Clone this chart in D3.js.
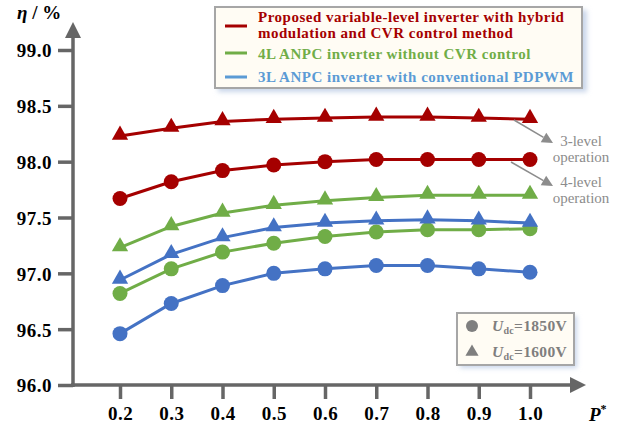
<!DOCTYPE html>
<html>
<head>
<meta charset="utf-8">
<script src="https://cdn.jsdelivr.net/npm/d3@7/dist/d3.min.js"></script>
<style>
  html, body { margin: 0; padding: 0; background: #fff; }
  svg { display: block; font-family: "Liberation Serif", "Times New Roman", serif; }
</style>
</head>
<body>
<svg id="chart" width="631" height="432"></svg>
<script>
// Per-unit output power
const powerLevels = [0.2, 0.3, 0.4, 0.5, 0.6, 0.7, 0.8, 0.9, 1.0];
const xTickLabels = ["0.2", "0.3", "0.4", "0.5", "0.6", "0.7", "0.8", "0.9", "1.0"];
const yTicks = [96.0, 96.5, 97.0, 97.5, 98.0, 98.5, 99.0];

// Efficiency (%) — Udc = 1600 V (triangles) and Udc = 1850 V (circles)
const proposed1600 = [98.23, 98.30, 98.36, 98.38, 98.39, 98.40, 98.40, 98.39, 98.38];
const proposed1850 = [97.67, 97.82, 97.92, 97.97, 98.00, 98.02, 98.02, 98.02, 98.02];
const anpc4L1600   = [97.23, 97.42, 97.54, 97.61, 97.65, 97.68, 97.70, 97.70, 97.70];
const anpc4L1850   = [96.82, 97.04, 97.19, 97.27, 97.33, 97.37, 97.39, 97.39, 97.40];
const anpc3L1600   = [96.94, 97.17, 97.32, 97.41, 97.45, 97.47, 97.48, 97.47, 97.45];
const anpc3L1850   = [96.46, 96.73, 96.89, 97.00, 97.04, 97.07, 97.07, 97.04, 97.01];

const series = [
  { values: proposed1600, color: "#A50000", shape: "triangle" },
  { values: proposed1850, color: "#A50000", shape: "circle" },
  { values: anpc4L1600,   color: "#70AD47", shape: "triangle" },
  { values: anpc4L1850,   color: "#70AD47", shape: "circle" },
  { values: anpc3L1600,   color: "#4472C4", shape: "triangle" },
  { values: anpc3L1850,   color: "#4472C4", shape: "circle" }
];

const svg = d3.select("#chart");
const axisColor = "#666";

const x = d3.scaleLinear().domain([0.2, 1.0]).range([120, 530]);
const y = d3.scaleLinear().domain([96.0, 99.0]).range([385, 50]);

const defs = svg.append("defs");
defs.append("filter").attr("id", "glow").attr("x", "-10%").attr("y", "-20%").attr("width", "120%").attr("height", "150%")
  .call(f => {
    f.append("feGaussianBlur").attr("stdDeviation", 2.5);
  });

// Axes (with arrow heads)
const axisX0 = 73, axisY0 = 385;
svg.append("line").attr("x1", axisX0).attr("y1", axisY0 + 2).attr("x2", axisX0).attr("y2", 36)
  .attr("stroke", axisColor).attr("stroke-width", 3.5);
svg.append("path").attr("d", `M${axisX0 - 8},${38} L${axisX0},${22} L${axisX0 + 8},${38} Z`).attr("fill", axisColor);
svg.append("line").attr("x1", axisX0 - 2).attr("y1", axisY0).attr("x2", 572).attr("y2", axisY0)
  .attr("stroke", axisColor).attr("stroke-width", 3.5);
svg.append("path").attr("d", `M570,${axisY0 - 8} L586,${axisY0} L570,${axisY0 + 8} Z`).attr("fill", axisColor);

// Y axis ticks and labels
const yAxis = d3.axisLeft(y).tickValues(yTicks).tickSize(15).tickFormat(d3.format(".1f"));
const gy = svg.append("g").attr("transform", `translate(${axisX0},0)`).call(yAxis);
gy.select(".domain").remove();
gy.selectAll(".tick line").attr("stroke", axisColor).attr("stroke-width", 3.5);
gy.selectAll(".tick text").attr("x", -21).attr("dy", "0.36em")
  .attr("fill", "#000").attr("font-size", 19).attr("font-weight", "bold").attr("letter-spacing", 0.5)
  .attr("font-family", "Liberation Serif, serif");

// X axis ticks and labels
const xAxis = d3.axisBottom(x).tickValues(powerLevels).tickSize(14)
  .tickFormat((d, i) => xTickLabels[i]);
const gx = svg.append("g").attr("transform", `translate(0,${axisY0})`).call(xAxis);
gx.select(".domain").remove();
gx.selectAll(".tick line").attr("stroke", axisColor).attr("stroke-width", 3.5);
gx.selectAll(".tick text").attr("y", 35).attr("dy", 0)
  .attr("fill", "#000").attr("font-size", 19).attr("font-weight", "bold").attr("letter-spacing", 0.5)
  .attr("font-family", "Liberation Serif, serif");

// Axis titles
const yTitle = svg.append("text").attr("x", 17).attr("y", 19).attr("font-size", 19).attr("font-weight", "bold");
yTitle.append("tspan").attr("font-style", "italic").text("η");
yTitle.append("tspan").text(" / %");
const xTitle = svg.append("text").attr("x", 589).attr("y", 421).attr("font-size", 19).attr("font-weight", "bold");
xTitle.append("tspan").attr("font-style", "italic").text("P");
xTitle.append("tspan").attr("font-size", 12).attr("dy", -8).text("*");

// Series lines and markers
const line = d3.line().x((d, i) => x(powerLevels[i])).y(d => y(d));
const tri = d3.symbol().type(d3.symbolTriangle).size(115);

series.forEach(s => {
  svg.append("path").attr("d", line(s.values)).attr("fill", "none")
    .attr("stroke", s.color).attr("stroke-width", 3);
  const g = svg.append("g");
  if (s.shape === "circle") {
    g.selectAll("circle").data(s.values).join("circle")
      .attr("cx", (d, i) => x(powerLevels[i])).attr("cy", d => y(d)).attr("r", 7.5)
      .attr("fill", s.color);
  } else {
    g.selectAll("path").data(s.values).join("path")
      .attr("d", tri).attr("transform", (d, i) => `translate(${x(powerLevels[i])},${y(d) - 1})`)
      .attr("fill", s.color);
  }
});

// Operation-mode annotations
const annGrey = "#8C8C8C";
function arrow(x1, y1, x2, y2) {
  const a = Math.atan2(y2 - y1, x2 - x1), L = 11, W = 5.5;
  const bx = x2 - L * Math.cos(a), by = y2 - L * Math.sin(a);
  svg.append("line").attr("x1", x1).attr("y1", y1).attr("x2", bx).attr("y2", by)
    .attr("stroke", annGrey).attr("stroke-width", 1.5);
  svg.append("path").attr("d",
    `M${x2},${y2} L${bx - W * Math.sin(a)},${by + W * Math.cos(a)} L${bx + W * Math.sin(a)},${by - W * Math.cos(a)} Z`)
    .attr("fill", annGrey);
}
arrow(514, 120, 553, 143);
arrow(511, 162, 553, 186);
const ann = [
  { lines: ["3-level", "operation"], y: 146 },
  { lines: ["4-level", "operation"], y: 187 }
];
ann.forEach(a => {
  a.lines.forEach((t, i) => {
    svg.append("text").attr("x", 581).attr("y", a.y + i * 15.5).attr("text-anchor", "middle")
      .attr("font-size", 15).attr("fill", annGrey).text(t);
  });
});

// Series legend
const legend1 = svg.append("g");
legend1.append("rect").attr("x", 218).attr("y", 10).attr("width", 369).attr("height", 82)
  .attr("fill", "#C9D6EA").attr("filter", "url(#glow)");
legend1.append("rect").attr("x", 215).attr("y", 7).attr("width", 367).attr("height", 81)
  .attr("fill", "#FFFCF4").attr("stroke", "#A6A6A6").attr("stroke-width", 2);
const legendItems = [
  { color: "#A50000", textColor: "#A50000", lineY: 26,
    lines: ["Proposed variable-level inverter with hybrid", "modulation and CVR control method"], textY: 22 },
  { color: "#70AD47", textColor: "#70AD47", lineY: 53,
    lines: ["4L ANPC inverter without CVR control"], textY: 59 },
  { color: "#5B9BD5", textColor: "#5B9BD5", lineY: 77,
    lines: ["3L ANPC inverter with conventional PDPWM"], textY: 82 }
];
legendItems.forEach(it => {
  legend1.append("line").attr("x1", 225).attr("x2", 247).attr("y1", it.lineY).attr("y2", it.lineY)
    .attr("stroke", it.color).attr("stroke-width", 3);
  it.lines.forEach((t, i) => {
    legend1.append("text").attr("x", 258).attr("y", it.textY + i * 15.5)
      .attr("font-size", 15).attr("font-weight", "bold").attr("letter-spacing", 0.5)
      .attr("fill", it.textColor).text(t);
  });
});

// Marker legend (DC-link voltage)
const legend2 = svg.append("g");
legend2.append("rect").attr("x", 460).attr("y", 316).attr("width", 117).attr("height", 52)
  .attr("fill", "#C9D6EA").attr("filter", "url(#glow)");
legend2.append("rect").attr("x", 457).attr("y", 313).attr("width", 117).attr("height", 52)
  .attr("fill", "#FFFCF4").attr("stroke", "#A6A6A6").attr("stroke-width", 2);
const voltageItems = [
  { shape: "circle", label: "1850V", cy: 326 },
  { shape: "triangle", label: "1600V", cy: 352 }
];
voltageItems.forEach(v => {
  if (v.shape === "circle") {
    legend2.append("circle").attr("cx", 472).attr("cy", v.cy).attr("r", 6).attr("fill", "#7F7F7F");
  } else {
    legend2.append("path").attr("d", d3.symbol().type(d3.symbolTriangle).size(75))
      .attr("transform", `translate(472,${v.cy})`).attr("fill", "#7F7F7F");
  }
  const t = legend2.append("text").attr("x", 492).attr("y", v.cy + 5).attr("font-size", 15.5)
    .attr("font-weight", "bold").attr("letter-spacing", 0.3).attr("fill", "#7F7F7F");
  t.append("tspan").attr("font-style", "italic").text("U");
  t.append("tspan").attr("font-size", 10).attr("dy", 3).text("dc");
  t.append("tspan").attr("dy", -3).text("=" + v.label);
});
</script>
</body>
</html>
